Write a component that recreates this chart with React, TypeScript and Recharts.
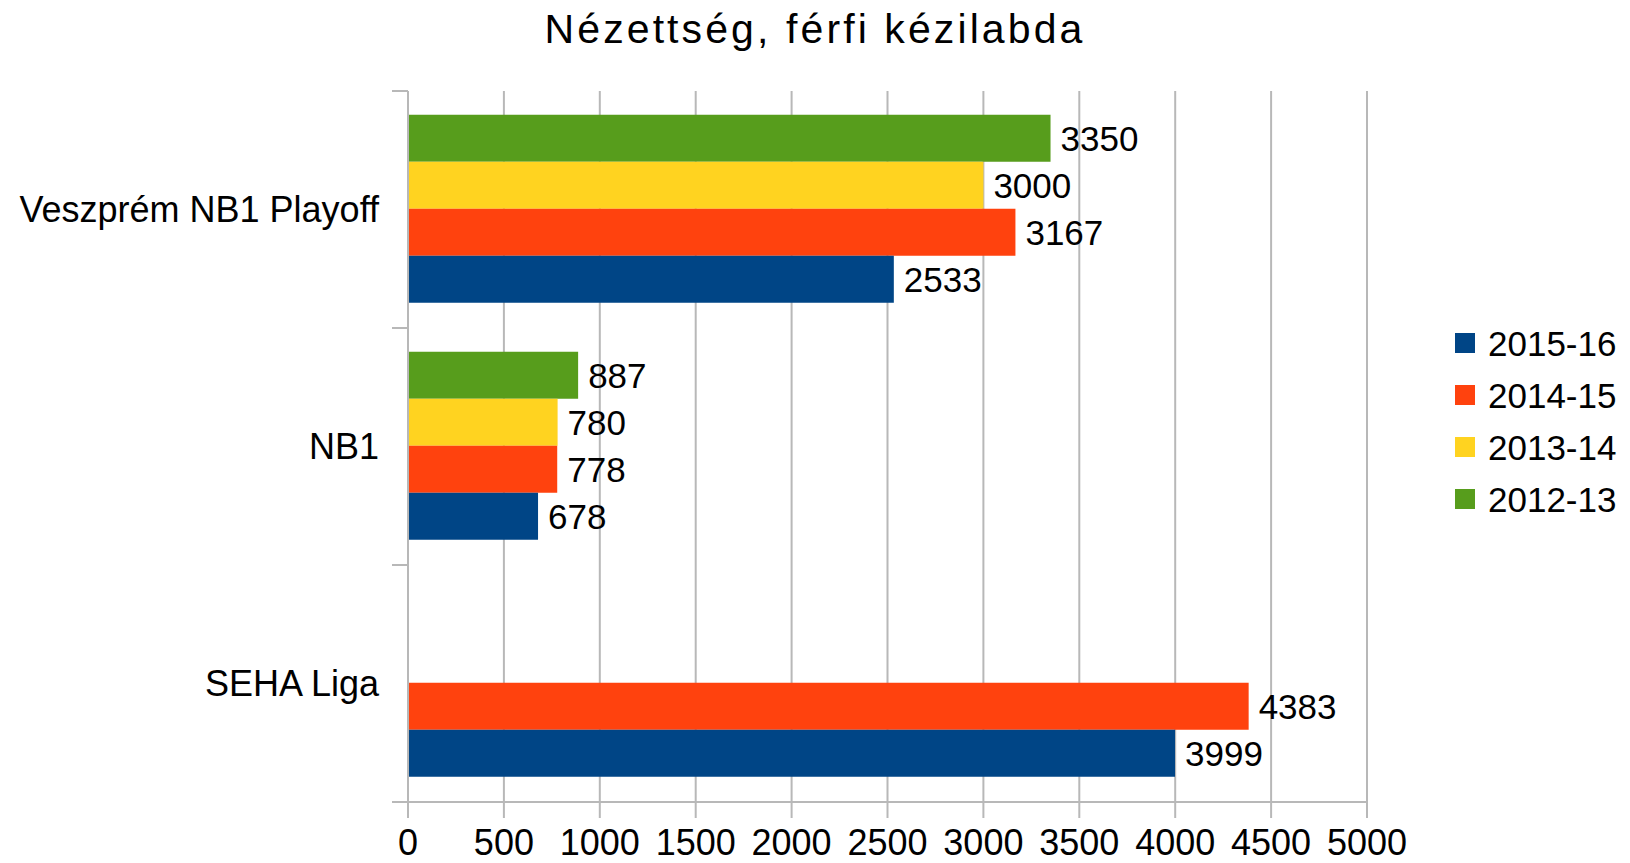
import React from 'react';
import { BarChart, Bar, XAxis, YAxis, CartesianGrid, Legend, LabelList } from 'recharts';

const chartTitle = 'Nézettség, férfi kézilabda';
const categories = ['Veszprém NB1 Playoff', 'NB1', 'SEHA Liga'];
const s201213 = [3350, 887, null];
const s201314 = [3000, 780, null];
const s201415 = [3167, 778, 4383];
const s201516 = [2533, 678, 3999];
const xTicks = [0, 500, 1000, 1500, 2000, 2500, 3000, 3500, 4000, 4500, 5000];
const seriesKeys = ['s201213', 's201314', 's201415', 's201516'];
const seriesNames = ['2012-13', '2013-14', '2014-15', '2015-16'];
const seriesColors = ['#579d1c', '#ffd320', '#ff420e', '#004586'];

const data = categories.map((name, i) => ({
  name,
  s201213: s201213[i],
  s201314: s201314[i],
  s201415: s201415[i],
  s201516: s201516[i],
}));

const FONT = '"Liberation Sans", Arial, sans-serif';
const GRID = '#b8b8b8';
const TICK_SIZE = 16;
const Y_TICK_MARGIN = 13;

const YTick = (props: any) => {
  const { x, y, payload, index } = props;
  const half = payload && typeof payload.offset === 'number' ? payload.offset : 0;
  const axisX = x + Y_TICK_MARGIN + TICK_SIZE;
  const isLast = index === categories.length - 1;
  return (
    <g>
      <line x1={axisX - TICK_SIZE} x2={axisX} y1={y - half} y2={y - half} stroke={GRID} strokeWidth={2} />
      {isLast && (
        <line x1={axisX - TICK_SIZE} x2={axisX} y1={y + half} y2={y + half} stroke={GRID} strokeWidth={2} />
      )}
      <text x={x} y={y} dy="0.355em" textAnchor="end" fill="#000" fontSize={36} fontFamily={FONT}>
        {payload.value}
      </text>
    </g>
  );
};

const LegendBox = () => {
  const order = [3, 2, 1, 0];
  return (
    <div style={{ fontFamily: FONT }}>
      {order.map((i) => (
        <div key={seriesKeys[i]} style={{ height: 52, display: 'flex', alignItems: 'center' }}>
          <div style={{ width: 20, height: 20, background: seriesColors[i], marginRight: 13 }} />
          <span style={{ fontSize: 35, color: '#000', lineHeight: '35px' }}>{seriesNames[i]}</span>
        </div>
      ))}
    </div>
  );
};

export default function App() {
  return (
    <div style={{ position: 'absolute', left: 0, top: 0, width: 1630, height: 863, background: '#fff', overflow: 'hidden' }}>
      <div
        style={{
          position: 'absolute',
          left: 0,
          top: 9,
          width: 1630,
          textAlign: 'center',
          fontFamily: FONT,
          fontSize: 41,
          lineHeight: '41px',
          letterSpacing: 3.1,
          color: '#000',
          whiteSpace: 'nowrap',
        }}
      >
        {chartTitle}
      </div>
      <BarChart
        width={1630}
        height={863}
        data={data}
        layout="vertical"
        margin={{ top: 91, right: 263, bottom: 0, left: 0 }}
        barCategoryGap="10%"
        barGap={0}
      >
        <CartesianGrid horizontal={false} vertical={true} stroke={GRID} strokeWidth={2} />
        <XAxis
          type="number"
          domain={[0, 5000]}
          ticks={xTicks}
          interval={0}
          height={61}
          tickSize={TICK_SIZE}
          tickMargin={11}
          axisLine={{ stroke: GRID, strokeWidth: 2 }}
          tickLine={{ stroke: GRID, strokeWidth: 2 }}
          tick={{ fill: '#000', fontSize: 36, fontFamily: FONT }}
        />
        <XAxis
          xAxisId="top"
          orientation="top"
          type="number"
          domain={[0, 5000]}
          height={0}
          tick={false}
          tickLine={false}
          axisLine={{ stroke: GRID, strokeWidth: 2 }}
        />
        <YAxis
          type="category"
          dataKey="name"
          width={408}
          interval={0}
          tickSize={TICK_SIZE}
          tickMargin={Y_TICK_MARGIN}
          tickLine={false}
          axisLine={{ stroke: GRID, strokeWidth: 2 }}
          tick={<YTick />}
        />
        <Legend
          layout="horizontal"
          verticalAlign="middle"
          align="center"
          wrapperStyle={{ position: 'absolute', left: 1455, top: 317, width: 175, height: 208 }}
          content={() => <LegendBox />}
        />
        {seriesKeys.map((k, i) => (
          <Bar key={k} dataKey={k} name={seriesNames[i]} fill={seriesColors[i]} isAnimationActive={false}>
            <LabelList dataKey={k} position="right" offset={10} fill="#000" fontSize={35} fontFamily={FONT} />
          </Bar>
        ))}
      </BarChart>
    </div>
  );
}
